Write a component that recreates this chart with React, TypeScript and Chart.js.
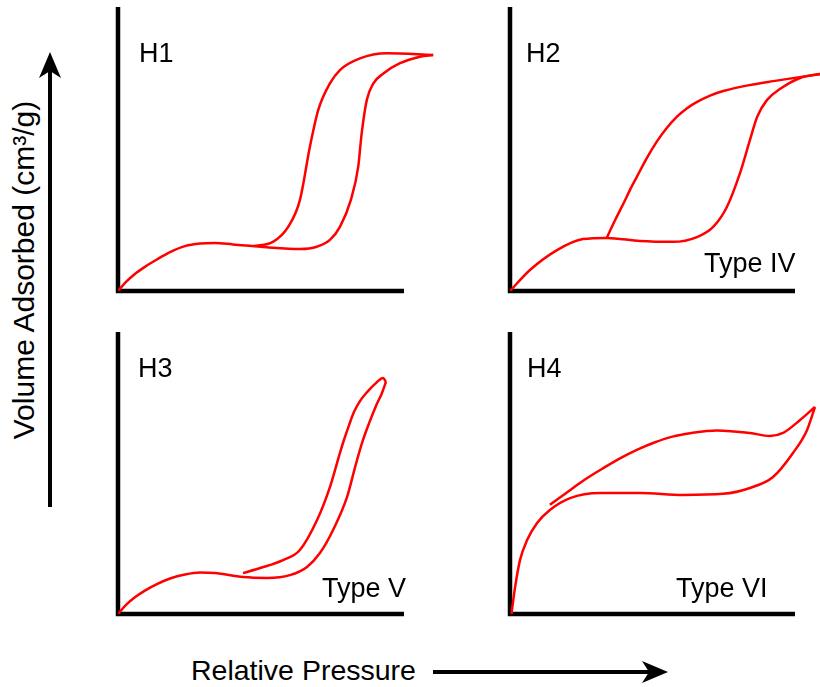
import React, { useEffect, useRef } from "react";
import { Chart, registerables } from "chart.js";

Chart.register(...registerables);

// Normalised data: x = relative pressure (axis end = 1), y = volume adsorbed (axis top = 1)
const H1_ADS: [number, number][] = [
  [0, 0], [0.028, 0.032], [0.059, 0.06], [0.094, 0.085], [0.136, 0.111], [0.182, 0.137],
  [0.234, 0.158], [0.287, 0.167], [0.339, 0.169], [0.402, 0.164], [0.52, 0.154], [0.636, 0.148],
  [0.695, 0.156], [0.741, 0.18], [0.776, 0.226], [0.814, 0.32], [0.84, 0.438], [0.852, 0.555],
  [0.87, 0.673], [0.893, 0.731], [0.928, 0.766], [0.986, 0.802], [1.056, 0.825], [1.102, 0.831],
];
const H1_DES: [number, number][] = [
  [0.473, 0.158], [0.543, 0.174], [0.595, 0.226], [0.636, 0.32], [0.671, 0.508], [0.7, 0.637],
  [0.741, 0.731], [0.776, 0.778], [0.846, 0.819], [0.94, 0.837], [1.102, 0.831],
];

const H2_ADS: [number, number][] = [
  [0, 0], [0.07, 0.074], [0.165, 0.144], [0.256, 0.183], [0.34, 0.187], [0.456, 0.176],
  [0.572, 0.173], [0.656, 0.19], [0.712, 0.225], [0.761, 0.296], [0.807, 0.415], [0.842, 0.532],
  [0.867, 0.613], [0.902, 0.673], [0.947, 0.711], [1.018, 0.75], [1.088, 0.764],
];
const H2_DES: [number, number][] = [
  [0.339, 0.186], [0.368, 0.248], [0.398, 0.308], [0.421, 0.356], [0.445, 0.402], [0.48, 0.468],
  [0.515, 0.526], [0.55, 0.574], [0.585, 0.613], [0.62, 0.643], [0.655, 0.665], [0.702, 0.688],
  [0.748, 0.704], [0.835, 0.724], [0.924, 0.739], [1.088, 0.764],
];

const H3_ADS: [number, number][] = [
  [0, 0], [0.028, 0.032], [0.059, 0.059], [0.094, 0.083], [0.136, 0.106], [0.182, 0.126],
  [0.234, 0.14], [0.287, 0.147], [0.339, 0.145], [0.437, 0.131], [0.521, 0.128], [0.601, 0.138],
  [0.661, 0.167], [0.706, 0.216], [0.752, 0.298], [0.801, 0.415], [0.829, 0.521], [0.853, 0.606],
  [0.878, 0.677], [0.902, 0.738], [0.923, 0.784], [0.937, 0.823],
];
const H3_DES: [number, number][] = [
  [0.937, 0.823], [0.927, 0.837], [0.899, 0.816], [0.871, 0.787], [0.846, 0.755], [0.825, 0.716],
  [0.808, 0.67], [0.79, 0.617], [0.776, 0.571], [0.759, 0.511], [0.741, 0.45], [0.696, 0.333],
  [0.636, 0.227], [0.577, 0.191], [0.497, 0.163], [0.437, 0.145],
];

const H4_ADS: [number, number][] = [
  [0.005, 0], [0.018, 0.096], [0.035, 0.191], [0.06, 0.262], [0.095, 0.323], [0.14, 0.369],
  [0.211, 0.411], [0.316, 0.429], [0.456, 0.429], [0.607, 0.422], [0.747, 0.426], [0.842, 0.447],
  [0.923, 0.486], [0.993, 0.571], [1.042, 0.652], [1.07, 0.734],
];
const H4_DES: [number, number][] = [
  [1.07, 0.734], [1.018, 0.688], [0.958, 0.642], [0.912, 0.631], [0.842, 0.642], [0.726, 0.651],
  [0.632, 0.641], [0.57, 0.629], [0.509, 0.609], [0.447, 0.583], [0.386, 0.552], [0.325, 0.516],
  [0.263, 0.477], [0.202, 0.433], [0.14, 0.387],
];

const PANEL_NAMES = ["H1", "H2", "H3", "H4"];
const TYPE_NAMES = ["", "Type IV", "Type V", "Type VI"];
const Y_TITLE = "Volume Adsorbed (cm³/g)";
const X_TITLE = "Relative Pressure";

const XM = 1.15;
const PAD_L = 20;
const PAD_R = 4;
const PAD_T = 8;
const PAD_B = 10;
const RED = "#ff0000";

const axisPlugin = {
  id: "axisLines",
  beforeDatasetsDraw(chart: any) {
    const xs = chart.scales.x;
    const ys = chart.scales.y;
    const ctx = chart.ctx;
    const left = xs.getPixelForValue(0);
    const right = xs.getPixelForValue(1);
    const top = ys.getPixelForValue(1);
    const bottom = ys.getPixelForValue(0);
    ctx.save();
    ctx.strokeStyle = "#000";
    ctx.lineWidth = 4.5;
    ctx.lineJoin = "miter";
    ctx.lineCap = "butt";
    ctx.beginPath();
    ctx.moveTo(left, top);
    ctx.lineTo(left, bottom);
    ctx.lineTo(right, bottom);
    ctx.stroke();
    ctx.restore();
  },
};

type PanelProps = {
  ads: [number, number][];
  des: [number, number][];
  x0: number;
  x1: number;
  yTop: number;
  yBot: number;
};

function Panel({ ads, des, x0, x1, yTop, yBot }: PanelProps) {
  const ref = useRef<HTMLCanvasElement | null>(null);
  const cw = XM * (x1 - x0);
  const ch = yBot - yTop;
  const width = Math.round(PAD_L + cw + PAD_R);
  const height = Math.round(PAD_T + ch + PAD_B);
  useEffect(() => {
    if (!ref.current) return;
    const mk = (d: [number, number][]) => ({
      data: d.map(([x, y]) => ({ x, y })),
      showLine: true,
      borderColor: RED,
      borderWidth: 2.5,
      pointRadius: 0,
      cubicInterpolationMode: "monotone",
      fill: false,
    });
    const chart = new Chart(ref.current, {
      type: "scatter",
      data: { datasets: [mk(ads), mk(des)] as any },
      options: {
        responsive: false,
        animation: false,
        events: [],
        layout: {
          padding: {
            left: PAD_L,
            right: width - PAD_L - cw,
            top: PAD_T,
            bottom: height - PAD_T - ch,
          },
        },
        plugins: { legend: { display: false }, tooltip: { enabled: false } },
        scales: {
          x: { type: "linear", min: 0, max: XM, display: false },
          y: { type: "linear", min: 0, max: 1, display: false },
        },
      } as any,
      plugins: [axisPlugin],
    });
    return () => chart.destroy();
  }, []);
  return (
    <canvas
      ref={ref}
      width={width}
      height={height}
      style={{
        position: "absolute",
        left: x0 - PAD_L,
        top: yTop - PAD_T,
        width,
        height,
      }}
    />
  );
}

function Label({ text, left, baseline, size }: { text: string; left: number; baseline: number; size: number }) {
  return (
    <div
      style={{
        position: "absolute",
        left,
        top: baseline - 0.8465 * size,
        fontSize: size,
        lineHeight: 1,
        whiteSpace: "nowrap",
        color: "#000",
      }}
    >
      {text}
    </div>
  );
}

export default function App() {
  const panelFont = 27;
  const xTitleFont = 28.5;
  const yTitleFont = 30;
  return (
    <div
      style={{
        position: "absolute",
        left: 0,
        top: 0,
        width: 820,
        height: 687,
        overflow: "hidden",
        background: "#fff",
        fontFamily: "'Liberation Sans', Arial, Helvetica, sans-serif",
      }}
    >
      <Panel ads={H1_ADS} des={H1_DES} x0={118} x1={404} yTop={7} yBot={291} />
      <Panel ads={H2_ADS} des={H2_DES} x0={510} x1={795} yTop={7} yBot={291} />
      <Panel ads={H3_ADS} des={H3_DES} x0={118} x1={404} yTop={332} yBot={614} />
      <Panel ads={H4_ADS} des={H4_DES} x0={510} x1={795} yTop={332} yBot={614} />

      <Label text={PANEL_NAMES[0]} left={139} baseline={63} size={panelFont} />
      <Label text={PANEL_NAMES[1]} left={526} baseline={63} size={panelFont} />
      <Label text={PANEL_NAMES[2]} left={138} baseline={378} size={panelFont} />
      <Label text={PANEL_NAMES[3]} left={527} baseline={378} size={panelFont} />
      <Label text={TYPE_NAMES[1]} left={704} baseline={273} size={panelFont} />
      <Label text={TYPE_NAMES[2]} left={322} baseline={598} size={panelFont} />
      <Label text={TYPE_NAMES[3]} left={676} baseline={598} size={panelFont} />

      <Label text={X_TITLE} left={191} baseline={680} size={xTitleFont} />
      <div
        style={{
          position: "absolute",
          left: 24.1 - 200,
          top: 270 - yTitleFont / 2,
          width: 400,
          height: yTitleFont,
          fontSize: yTitleFont,
          lineHeight: 1,
          textAlign: "center",
          whiteSpace: "nowrap",
          transform: "rotate(-90deg)",
          transformOrigin: "50% 50%",
          color: "#000",
        }}
      >
        {Y_TITLE}
      </div>

      <svg
        width={820}
        height={687}
        style={{ position: "absolute", left: 0, top: 0, pointerEvents: "none" }}
      >
        <line x1={50} y1={507} x2={50} y2={70} stroke="#000" strokeWidth={4} />
        <polygon points="50,52 39,78 50,71 61,78" fill="#000" />
        <line x1={433} y1={672} x2={650} y2={672} stroke="#000" strokeWidth={4} />
        <polygon points="668,672 642,661 649,672 642,683" fill="#000" />
      </svg>
    </div>
  );
}
